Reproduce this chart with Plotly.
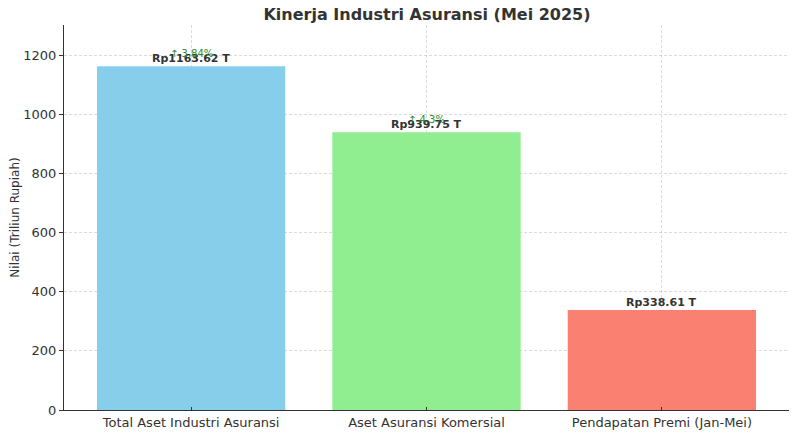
import plotly.graph_objects as go

categories = ["Total Aset Industri Asuransi", "Aset Asuransi Komersial", "Pendapatan Premi (Jan-Mei)"]
values = [1163.62, 939.75, 338.61]
colors = ["#87CEEB", "#90EE90", "#FA8072"]
value_labels = ["Rp1163.62 T", "Rp939.75 T", "Rp338.61 T"]
growth_labels = ["↑ 3.84%", "↑ 4.3%", ""]
y_ticks = [0, 200, 400, 600, 800, 1000, 1200]

# The page body has an 8px default margin, so the figure is sized to fit the window
W, H = 789, 426
ML, MR, MT, MB = 56, 8, 17, 24

fig = go.Figure()
fig.add_trace(go.Bar(
    x=list(range(len(categories))), y=values, marker=dict(color=colors, line=dict(width=0)),
    width=0.8, hoverinfo="skip",
))

annotations = []
for i, (v, lab, g) in enumerate(zip(values, value_labels, growth_labels)):
    annotations.append(dict(x=i, y=v, text="<b>" + lab + "</b>", showarrow=False,
                            yanchor="bottom", yshift=-1,
                            font=dict(family="DejaVu Sans", size=11, color="#333333")))
    if g:
        annotations.append(dict(x=i, y=v, text=g, showarrow=False,
                                yanchor="bottom", yshift=5,
                                font=dict(family="DejaVu Sans", size=10, color="#2e8b2e")))

fig.update_layout(
    width=W, height=H,
    margin=dict(l=ML, r=MR, t=MT, b=MB, autoexpand=False),
    paper_bgcolor="white", plot_bgcolor="white",
    title=dict(text="<b>Kinerja Industri Asuransi (Mei 2025)</b>", x=(419 - ML) / (W - ML - MR),
               xref="paper", xanchor="center",
               y=1 - 6 / H, yref="container", yanchor="middle",
               font=dict(family="DejaVu Sans", size=16, color="#333333")),
    font=dict(family="DejaVu Sans", color="#333333"),
    showlegend=False,
    annotations=annotations,
    bargap=0.2,
)
grid_col = "rgba(110,110,110,0.25)"
fig.update_xaxes(
    range=[-0.54, 2.54], tickmode="array", tickvals=list(range(len(categories))), ticktext=categories,
    showline=True, linecolor="#333333", linewidth=1, ticks="inside", ticklen=3, tickcolor="#333333",
    showgrid=True, gridcolor=grid_col, griddash="3px,2px", gridwidth=1, automargin=False,
    layer="above traces",
    tickfont=dict(family="DejaVu Sans", size=13, color="#333333"), zeroline=False,
)
fig.update_yaxes(
    range=[0, 1303], tickmode="array", tickvals=y_ticks,
    showline=True, linecolor="#333333", linewidth=1, ticks="outside", ticklen=4, tickcolor="#333333",
    showgrid=True, gridcolor=grid_col, griddash="3px,2px", gridwidth=1, automargin=False,
    layer="above traces",
    tickfont=dict(family="DejaVu Sans", size=13, color="#333333"), zeroline=False,
    title=dict(text="Nilai (Triliun Rupiah)", font=dict(family="DejaVu Sans", size=12, color="#333333"),
               standoff=8),
)
fig.write_html("out.html")
